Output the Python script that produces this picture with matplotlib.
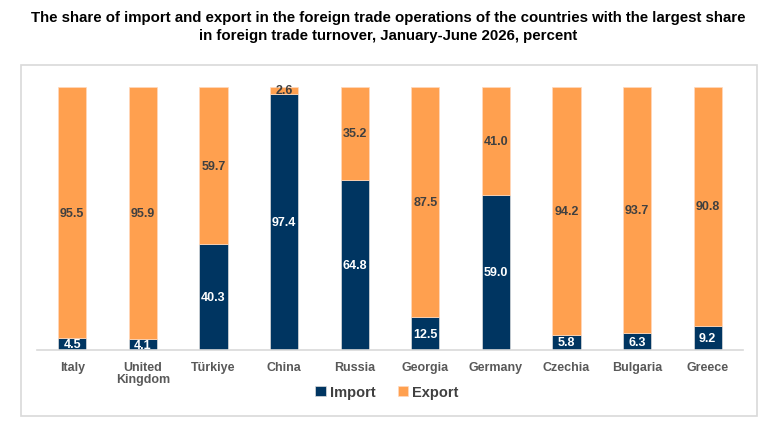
import matplotlib
matplotlib.use("Agg")
import matplotlib.pyplot as plt
from matplotlib.patches import Rectangle
import numpy as np

plt.rcParams['font.family'] = ['Liberation Sans', 'DejaVu Sans']

countries = ["Italy", "United\nKingdom", "Türkiye", "China", "Russia",
             "Georgia", "Germany", "Czechia", "Bulgaria", "Greece"]
imports = [4.5, 4.1, 40.3, 97.4, 64.8, 12.5, 59.0, 5.8, 6.3, 9.2]
exports = [95.5, 95.9, 59.7, 2.6, 35.2, 87.5, 41.0, 94.2, 93.7, 90.8]

navy = "#003561"
orange = "#FFA04F"

fig = plt.figure(figsize=(7.76, 4.27), dpi=100)
fig.patches.append(Rectangle((21/776, 1-417/427), (757-21)/776, (417-66)/427,
                             transform=fig.transFigure, fill=False,
                             edgecolor="#d9d9d9", linewidth=1.2))

ax = fig.add_axes([37/776, 1-351/427, (743-37)/776, (351-88)/427])
x = np.arange(len(countries))
w = 0.4
b1 = ax.bar(x, imports, w, color=navy, edgecolor="#dcdcdc", linewidth=0.5, label="Import")
b2 = ax.bar(x, exports, w, bottom=imports, color=orange, edgecolor="#ffd9bd", linewidth=0.5, label="Export")

for i in range(len(x)):
    ax.text(x[i], imports[i]/2, f"{imports[i]:.1f}", ha="center", va="center",
            color="white", fontsize=9, fontweight="bold")
    ax.text(x[i], imports[i] + exports[i]/2, f"{exports[i]:.1f}", ha="center", va="center",
            color="#404040", fontsize=9, fontweight="bold")

ax.set_xlim(-0.5, len(x)-0.5)
ax.set_ylim(0, 100)
ax.set_xticks(x)
ax.set_xticklabels(countries, fontsize=9, fontweight="bold", color="#595959", linespacing=1.0)
ax.tick_params(axis="x", length=0, pad=8)
ax.set_yticks([])
for s in ["top", "right", "left"]:
    ax.spines[s].set_visible(False)
ax.spines["bottom"].set_color("#d9d9d9")
ax.spines["bottom"].set_linewidth(1.2)

leg = fig.legend(handles=[b1, b2], labels=["Import", "Export"], loc="center",
                 bbox_to_anchor=(387/776, 1-393/427), ncol=2, frameon=False,
                 fontsize=10.5, handlelength=0.7, handleheight=0.7, handletextpad=0.3,
                 columnspacing=1.5)
for t in leg.get_texts():
    t.set_fontweight("bold")
    t.set_color("#404040")

fig.text(388/776, 1-27/427,
         "The share of import and export in the foreign trade operations of the countries with the largest share\n"
         "in foreign trade turnover, January-June 2026, percent",
         ha="center", va="center", fontsize=10.8, fontweight="bold", color="black", linespacing=1.3)

fig.savefig("out.png", dpi=100)
